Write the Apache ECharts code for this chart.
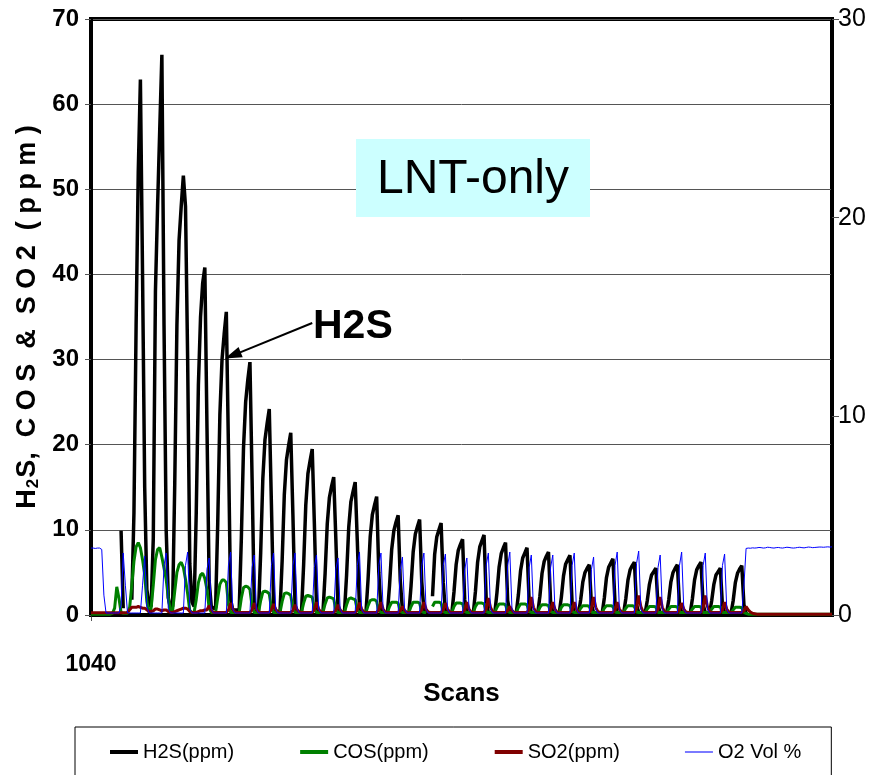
<!DOCTYPE html>
<html>
<head>
<meta charset="utf-8">
<title>LNT-only</title>
<script src="https://cdn.jsdelivr.net/npm/echarts@6/dist/echarts.min.js"></script>
<style>
  html, body { margin: 0; padding: 0; background: #fff; }
  #chart { width: 871px; height: 775px; }
</style>
</head>
<body>
<div id="chart"></div>
<script>
// scans start at 1040, one value per scan
const firstScan = 1040;

const h2s = [
    0, 0, 0, 0, 0, 0, 0, 0, 0, 0,
    0, 0, 0, null, 9.9, 0.8, null, null, null, 1.8,
    12, 34, 52, 62.9, 40, 15, 3, 1.2, 1.0, 9,
    38, 48, 57, 65.8, 34, 10, 2, 0.9, 1.0, 15.5,
    34, 44, 48, 51.6, 48, 30, 6, 1.5, 1.0, 12,
    27, 35, 39, 40.8, 22, 4, 1.0, 0.8, 0.8, 10.7,
    23.5, 30, 33, 35.6, 19.5, 1.8, 0.6, 0.6, 0.6, 0.6,
    9, 19.6, 25, 27.6, 29.7, 16, 1.5, 0.5, 0.5, 7.3,
    16, 20.6, 22.5, 24.2, 13, 1.2, 0.4, 0.4, 0.4, 6.4,
    14.1, 18.2, 19.9, 21.4, 11.8, 1.1, 0.3, 0.3, 0.3, 5.9,
    12.9, 16.6, 18.1, 19.5, 10.7, 1.0, 0.3, 0.3, 0.3, 4.9,
    10.7, 13.8, 15.1, 16.2, 8.9, 0.8, 0.3, 0.3, 0.3, 4.7,
    10.3, 13.3, 14.5, 15.6, 8.6, 0.8, 0.2, 0.2, 0.2, 4.2,
    9.2, 11.8, 12.9, 13.9, 5, 0.7, 0.2, 0.2, 0.2, 3.5,
    7.7, 9.9, 10.9, 11.7, 4, 0.6, 0.2, 0.2, 0.2, 3.4,
    7.4, 9.5, 10.4, 11.2, 3.9, 0.6, 0.2, null, null, 2.2,
    7.1, 9.2, 10, 10.8, 3.8, 0.5, 0.2, 0.2, 0.2, 2.7,
    5.9, 7.6, 8.3, 8.9, 1.8, 0.3, 0.2, 0.2, 0.2, 2.8,
    6.2, 8.0, 8.7, 9.4, 1.9, 0.3, 0.2, 0.2, 0.2, 2.6,
    5.6, 7.2, 7.9, 8.5, 1.7, 0.3, 0.2, 0.2, 0.2, 2.4,
    5.2, 6.7, 7.3, 7.9, 1.6, 0.3, 0.2, 0.2, 0.2, 2.2,
    4.9, 6.3, 6.9, 7.4, 1.5, 0.3, 0.2, 0.2, 0.2, 2.1,
    4.6, 6.0, 6.5, 7.0, 1.4, 0.3, 0.2, 0.2, 1.8, 3.9,
    5.0, 5.5, 5.9, 1.2, 0.3, 0.2, 0.2, 0.2, 0.2, 2.0,
    4.4, 5.6, 6.1, 6.6, 1.3, 0.3, 0.2, 0.2, 0.2, 1.9,
    4.1, 5.3, 5.8, 6.2, 1.2, 0.3, 0.2, 0.2, 0.2, 1.7,
    3.6, 4.7, 5.1, 5.5, 1.1, 0.3, 0.2, 0.2, 0.2, 1.8,
    3.9, 5.0, 5.5, 5.9, 1.2, 0.3, 0.2, 0.2, 0.2, 0.2,
    1.9, 4.1, 5.3, 5.8, 6.2, 1.2, 0.3, 0.2, 0.2, 1.7,
    3.6, 4.7, 5.1, 5.5, 1.1, 0.3, 0.2, 0.2, 0.2, 1.7,
    3.8, 4.9, 5.4, 5.8, 1.2, 0.2, 0, 0, 0, 0,
    0, 0, 0, 0, 0, 0, 0, 0, 0, 0,
    0, 0, 0, 0, 0, 0, 0, 0, 0, 0,
    0, 0, 0, 0, 0, 0, 0, 0, 0, 0,
    0, 0, 0, 0, 0, 0
];

const cos = [
    0.1, 0.1, 0.1, 0.1, 0.1, 0.1, 0.1, 0.1, 0.1, 0.1,
    0.2, 0.8, 3.3, 2.0, 0.3, 0.2, 0.2, 0.2, 0.9, 3.5,
    6.3, 8.0, 8.5, 7.9, 6.5, 4.7, 1.6, 0.3, 0.8, 3.5,
    6.5, 7.7, 7.9, 6.8, 5.5, 4.2, 2.0, 0.4, 0.5, 2.8,
    5.0, 5.9, 6.2, 5.6, 4.2, 2.5, 0.5, 0.3, 0.3, 1.8,
    3.8, 4.7, 4.9, 4.3, 3.0, 0.8, 0.3, 0.3, 0.3, 2.0,
    3.6, 4.1, 4.1, 3.8, 1.2, 0.3, 0.3, 0.3, 0.3, 0.3,
    2.0, 3.2, 3.4, 3.3, 3.0, 1.0, 0.3, 0.3, 0.3, 1.7,
    2.7, 2.8, 2.7, 2.5, 0.8, 0.3, 0.3, 0.3, 0.3, 1.6,
    2.5, 2.6, 2.5, 2.3, 0.8, 0.3, 0.3, 0.3, 0.3, 1.4,
    2.2, 2.3, 2.2, 2.1, 0.7, 0.3, 0.3, 0.3, 0.3, 1.3,
    2.0, 2.1, 2.0, 1.9, 0.6, 0.3, 0.3, 0.3, 0.3, 1.2,
    1.9, 2.0, 1.9, 1.8, 0.6, 0.3, 0.3, 0.3, 0.3, 1.1,
    1.7, 1.8, 1.8, 1.6, 0.5, 0.3, 0.3, 0.3, 0.3, 1.0,
    1.5, 1.5, 1.5, 1.4, 0.4, 0.3, 0.3, 0.3, 0.3, 1.0,
    1.5, 1.5, 1.5, 1.4, 0.4, 0.3, 0.3, null, null, 1.0,
    1.5, 1.5, 1.5, 1.4, 0.4, 0.3, 0.3, 0.3, 0.3, 1.0,
    1.4, 1.4, 1.4, 1.3, 0.4, 0.3, 0.3, 0.3, 0.3, 1.0,
    1.4, 1.4, 1.4, 1.3, 0.4, 0.3, 0.3, 0.3, 0.3, 0.9,
    1.3, 1.3, 1.3, 1.2, 0.4, 0.3, 0.3, 0.3, 0.3, 0.9,
    1.3, 1.3, 1.3, 1.2, 0.4, 0.3, 0.3, 0.3, 0.3, 0.9,
    1.2, 1.2, 1.2, 1.1, 0.4, 0.3, 0.3, 0.3, 0.3, 0.9,
    1.2, 1.2, 1.2, 1.1, 0.4, 0.3, 0.3, 0.3, 0.8, 1.1,
    1.1, 1.1, 1.0, 0.35, 0.3, 0.3, 0.3, 0.3, 0.3, 0.8,
    1.1, 1.1, 1.1, 1.0, 0.35, 0.3, 0.3, 0.3, 0.3, 0.8,
    1.1, 1.1, 1.1, 1.0, 0.35, 0.3, 0.3, 0.3, 0.3, 0.7,
    1.0, 1.0, 1.0, 0.95, 0.3, 0.3, 0.3, 0.3, 0.3, 0.7,
    1.0, 1.0, 1.0, 0.95, 0.3, 0.3, 0.3, 0.3, 0.3, 0.3,
    0.7, 1.0, 1.0, 1.0, 0.95, 0.3, 0.3, 0.3, 0.3, 0.7,
    1.0, 1.0, 1.0, 0.95, 0.3, 0.3, 0.3, 0.3, 0.3, 0.6,
    0.9, 0.9, 0.9, 0.85, 0.3, 0.2, 0.1, 0.1, 0.1, 0.1,
    0.1, 0.1, 0.1, 0.1, 0.1, 0.1, 0.1, 0.1, 0.1, 0.1,
    0.1, 0.1, 0.1, 0.1, 0.1, 0.1, 0.1, 0.1, 0.1, 0.1,
    0.1, 0.1, 0.1, 0.1, 0.1, 0.1, 0.1, 0.1, 0.1, 0.1,
    0.1, 0.1, 0.1, 0.1, 0.1, 0.1
];

const so2 = [
    0.25, 0.25, 0.25, 0.25, 0.25, 0.25, 0.25, 0.25, 0.25, 0.25,
    0.25, 0.25, 0.25, 0.25, 0.25, 0.25, 0.25, 0.3, 0.6, 0.9,
    0.9, 0.9, 1.0, 0.9, 0.8, 0.8, 0.6, 0.4, 0.4, 0.5,
    0.7, 0.7, 0.6, 0.5, 0.6, 0.6, 0.4, 0.3, 0.3, 0.4,
    0.5, 0.6, 0.7, 0.8, 0.8, 0.7, 0.4, 0.3, 0.3, 0.3,
    0.4, 0.5, 0.5, 0.6, 0.6, 1.1, 0.6, 0.3, 0.3, 0.3,
    0.3, 0.3, 0.3, 0.3, 0.6, 1.4, 0.7, 0.35, 0.3, 0.3,
    0.3, 0.3, 0.3, 0.3, 0.3, 0.6, 1.4, 0.7, 0.35, 0.3,
    0.3, 0.3, 0.3, 0.3, 0.6, 1.3, 0.65, 0.35, 0.3, 0.3,
    0.3, 0.3, 0.3, 0.3, 0.55, 1.2, 0.6, 0.35, 0.3, 0.3,
    0.3, 0.3, 0.3, 0.3, 0.6, 1.5, 0.7, 0.35, 0.3, 0.3,
    0.3, 0.3, 0.3, 0.3, 0.55, 1.2, 0.6, 0.35, 0.3, 0.3,
    0.3, 0.3, 0.3, 0.3, 0.6, 1.45, 0.7, 0.35, 0.3, 0.3,
    0.3, 0.3, 0.3, 0.3, 0.6, 1.5, 0.7, 0.35, 0.3, 0.3,
    0.3, 0.3, 0.3, 0.3, 0.5, 1.0, 0.55, 0.3, 0.3, 0.3,
    0.3, 0.3, 0.3, 0.3, 0.6, 1.5, 0.7, 0.35, 0.3, 0.3,
    0.3, 0.3, 0.3, 0.3, 0.6, 1.4, 0.7, 0.35, 0.3, 0.3,
    0.3, 0.3, 0.3, 0.3, 0.6, 1.5, 0.7, 0.35, 0.3, 0.3,
    0.3, 0.3, 0.3, 0.3, 0.7, 2.0, 0.9, 0.4, 0.3, 0.3,
    0.3, 0.3, 0.3, 0.3, 0.5, 1.0, 0.55, 0.3, 0.3, 0.3,
    0.3, 0.3, 0.3, 0.3, 0.7, 2.1, 0.9, 0.4, 0.3, 0.3,
    0.3, 0.3, 0.3, 0.3, 0.6, 1.5, 0.7, 0.35, 0.3, 0.3,
    0.3, 0.3, 0.3, 0.3, 0.6, 1.5, 0.7, 0.35, 0.3, 0.3,
    0.3, 0.3, 0.3, 0.7, 2.1, 0.9, 0.4, 0.3, 0.3, 0.3,
    0.3, 0.3, 0.3, 0.3, 0.6, 1.5, 0.7, 0.35, 0.3, 0.3,
    0.3, 0.3, 0.3, 0.3, 0.8, 2.3, 1.0, 0.4, 0.3, 0.3,
    0.3, 0.3, 0.3, 0.3, 0.7, 2.1, 0.9, 0.4, 0.3, 0.3,
    0.3, 0.3, 0.3, 0.3, 0.6, 1.4, 0.7, 0.35, 0.3, 0.3,
    0.3, 0.3, 0.3, 0.3, 0.3, 0.8, 2.3, 1.0, 0.4, 0.3,
    0.3, 0.3, 0.3, 0.3, 0.6, 1.5, 0.7, 0.35, 0.3, 0.3,
    0.3, 0.3, 0.3, 0.3, 0.5, 1.0, 0.6, 0.35, 0.2, 0.15,
    0.1, 0.1, 0.1, 0.1, 0.1, 0.1, 0.1, 0.1, 0.1, 0.1,
    0.1, 0.1, 0.1, 0.1, 0.1, 0.1, 0.1, 0.1, 0.1, 0.1,
    0.1, 0.1, 0.1, 0.1, 0.1, 0.1, 0.1, 0.1, 0.1, 0.1,
    0.1, 0.1, 0.1, 0.1, 0.1, 0.1
];

// O2 Vol % (right axis)
const o2 = [
    3.37, 3.37, 3.35, 3.37, 3.37, 3.3, 1.0, 0.1, 0.1, 0.1,
    0.1, 0.1, 0.1, 0.1, 0.5, 3.12, 1.5, 0.12, 0.1, 0.1,
    0.1, 0.1, 0.1, 0.1, 1.5, 2.97, 0.4, 0.1, 0.1, 0.1,
    0.1, 0.1, 0.1, 0.1, 2.5, 3.12, 0.3, 0.1, 0.1, 0.1,
    0.1, 0.1, 0.1, 0.1, 2.5, 3.17, 0.3, 0.1, 0.1, 0.1,
    0.1, 0.1, 0.1, 0.1, 2.3, 2.87, 0.3, 0.1, 0.1, 0.1,
    0.1, 0.1, 0.1, 0.1, 2.5, 3.17, 0.3, 0.1, 0.1, 0.1,
    0.1, 0.1, 0.1, 0.1, 0.1, 2.4, 3.02, 0.3, 0.1, 0.1,
    0.1, 0.1, 0.1, 0.1, 2.5, 3.12, 0.3, 0.1, 0.1, 0.1,
    0.1, 0.1, 0.1, 0.1, 2.5, 3.12, 0.3, 0.1, 0.1, 0.1,
    0.1, 0.1, 0.1, 0.1, 2.4, 3.02, 0.3, 0.1, 0.1, 0.1,
    0.1, 0.1, 0.1, 0.1, 2.3, 2.87, 0.3, 0.1, 0.1, 0.1,
    0.1, 0.1, 0.1, 0.1, 2.5, 3.17, 0.3, 0.1, 0.1, 0.1,
    0.1, 0.1, 0.1, 0.1, 2.5, 3.12, 0.3, 0.1, 0.1, 0.1,
    0.1, 0.1, 0.1, 0.1, 2.3, 2.92, 0.3, 0.1, 0.1, 0.1,
    0.1, 0.1, 0.1, 0.1, 2.5, 3.12, 0.3, 0.1, 0.1, 0.1,
    0.1, 0.1, 0.1, 0.1, 2.5, 3.07, 0.3, 0.1, 0.1, 0.1,
    0.1, 0.1, 0.1, 0.1, 2.3, 2.87, 0.3, 0.1, 0.1, 0.1,
    0.1, 0.1, 0.1, 0.1, 2.5, 3.12, 0.3, 0.1, 0.1, 0.1,
    0.1, 0.1, 0.1, 0.1, 2.5, 3.17, 0.3, 0.1, 0.1, 0.1,
    0.1, 0.1, 0.1, 0.1, 2.4, 3.02, 0.3, 0.1, 0.1, 0.1,
    0.1, 0.1, 0.1, 0.1, 2.4, 3.02, 0.3, 0.1, 0.1, 0.1,
    0.1, 0.1, 0.1, 0.1, 2.5, 3.12, 0.3, 0.1, 0.1, 0.1,
    0.1, 0.1, 0.1, 2.3, 2.92, 0.3, 0.1, 0.1, 0.1, 0.1,
    0.1, 0.1, 0.1, 0.1, 2.5, 3.17, 0.3, 0.1, 0.1, 0.1,
    0.1, 0.1, 0.1, 0.1, 2.6, 3.22, 0.3, 0.1, 0.1, 0.1,
    0.1, 0.1, 0.1, 0.1, 2.4, 3.02, 0.3, 0.1, 0.1, 0.1,
    0.1, 0.1, 0.1, 0.1, 2.5, 3.17, 0.3, 0.1, 0.1, 0.1,
    0.1, 0.1, 0.1, 0.1, 0.1, 2.5, 3.12, 0.3, 0.1, 0.1,
    0.1, 0.1, 0.1, 0.1, 2.5, 3.07, 0.3, 0.1, 0.1, 0.1,
    0.1, 0.1, 0.1, 0.1, 1.5, 3.35, 3.37, 3.36, 3.38, 3.37,
    3.38, 3.40, 3.39, 3.37, 3.38, 3.41, 3.40, 3.38, 3.37, 3.39,
    3.40, 3.38, 3.37, 3.39, 3.41, 3.40, 3.38, 3.37, 3.38, 3.40,
    3.41, 3.39, 3.38, 3.40, 3.42, 3.41, 3.39, 3.40, 3.41, 3.42,
    3.42, 3.41, 3.42, 3.43, 3.42, 3.43
];

const scans = h2s.map((_, i) => String(firstScan + i));

const leftTicks = { min: 0, max: 70, interval: 10 };
const rightTicks = { min: 0, max: 30, interval: 10 };

// arrow for the "H2S" note, in [scan, ppm]
const arrowFrom = ['1143', 34.3];
const arrowTo = ['1106', 30.5];

const font = "'Liberation Sans', Arial, sans-serif";

const chart = echarts.init(document.getElementById('chart'));

const option = {
    animation: false,
    backgroundColor: '#fff',
    grid: {
        left: 91,
        right: 39,
        top: 19,
        bottom: 160,
        show: true,
        borderColor: '#000',
        borderWidth: 4
    },
    legend: {
        left: 75,
        top: 727,
        padding: [15, 30, 40, 33],
        itemGap: 64,
        itemWidth: 28,
        itemHeight: 14,
        borderColor: '#000',
        borderWidth: 1,
        itemStyle: { opacity: 0 },
        textStyle: { fontFamily: font, fontSize: 20, color: '#000' },
        data: [
            { name: 'H2S(ppm)', lineStyle: { width: 4 } },
            { name: 'COS(ppm)', lineStyle: { width: 4 } },
            { name: 'SO2(ppm)', lineStyle: { width: 4 } },
            { name: 'O2 Vol %', lineStyle: { width: 2, color: '#7a7aff' } }
        ]
    },
    xAxis: {
        type: 'category',
        data: scans,
        boundaryGap: false,
        name: 'Scans',
        nameLocation: 'middle',
        nameGap: 50,
        nameTextStyle: { fontFamily: font, fontWeight: 'bold', fontSize: 26, color: '#000' },
        axisLine: { lineStyle: { color: '#000', width: 2 } },
        axisTick: { interval: (i) => i === 0, length: 6, lineStyle: { color: '#555' } },
        axisLabel: {
            interval: (i) => i === 0,
            margin: 38,
            fontFamily: font,
            fontWeight: 'bold',
            fontSize: 23,
            color: '#000'
        },
        splitLine: { show: false }
    },
    yAxis: [
        {
            type: 'value',
            min: leftTicks.min,
            max: leftTicks.max,
            interval: leftTicks.interval,
            name: '{b|H}{s|2}{b|S,  C O S  &  S O 2  ( p p m )}',
            nameLocation: 'middle',
            nameRotate: 90,
            nameGap: 47,
            nameTextStyle: {
                rich: {
                    b: { fontFamily: font, fontWeight: 'bold', fontSize: 27, color: '#000' },
                    s: { fontFamily: font, fontWeight: 'bold', fontSize: 17, color: '#000', verticalAlign: 'bottom', padding: [0, 1, 0, 1] }
                }
            },
            axisLine: { show: true, lineStyle: { color: '#000', width: 4 } },
            axisTick: { show: true, length: 6, lineStyle: { color: '#555' } },
            axisLabel: { fontFamily: font, fontWeight: 'bold', fontSize: 24, color: '#000', margin: 12 },
            splitLine: { show: true, lineStyle: { color: '#555', width: 1 } }
        },
        {
            type: 'value',
            position: 'right',
            min: rightTicks.min,
            max: rightTicks.max,
            interval: rightTicks.interval,
            axisLine: { show: true, lineStyle: { color: '#000', width: 3 } },
            axisTick: { show: true, length: 7, lineStyle: { color: '#555' } },
            axisLabel: { fontFamily: font, fontSize: 25, color: '#000', margin: 6 },
            splitLine: { show: false }
        }
    ],
    series: [
        {
            name: 'H2S(ppm)',
            type: 'line',
            data: h2s,
            showSymbol: false,
            symbol: 'none',
            color: '#000',
            lineStyle: { color: '#000', width: 3.5 },
            markLine: {
                silent: true,
                animation: false,
                label: { show: false },
                lineStyle: { color: '#000', width: 2, type: 'solid' },
                data: [[
                    { coord: arrowFrom, symbol: 'none' },
                    { coord: arrowTo, symbol: 'path://M5,0L10,16L0,16Z', symbolSize: [11, 17] }
                ]]
            }
        },
        {
            name: 'COS(ppm)',
            type: 'line',
            data: cos,
            showSymbol: false,
            symbol: 'none',
            color: '#008000',
            lineStyle: { color: '#008000', width: 3 }
        },
        {
            name: 'SO2(ppm)',
            type: 'line',
            data: so2,
            showSymbol: false,
            symbol: 'none',
            color: '#800000',
            lineStyle: { color: '#800000', width: 3 }
        },
        {
            name: 'O2 Vol %',
            type: 'line',
            yAxisIndex: 1,
            data: o2,
            showSymbol: false,
            symbol: 'none',
            color: '#0000ff',
            lineStyle: { color: '#0000ff', width: 1 }
        }
    ],
    graphic: [
        {
            type: 'rect',
            z: 20,
            left: 356,
            top: 139,
            shape: { width: 234, height: 78 },
            style: { fill: '#ccffff' }
        },
        {
            type: 'text',
            z: 21,
            x: 473,
            y: 180,
            style: {
                text: 'LNT-only',
                font: '48px ' + font,
                fill: '#000',
                align: 'center',
                verticalAlign: 'middle'
            }
        },
        {
            type: 'text',
            z: 21,
            x: 313,
            y: 327,
            style: {
                text: 'H2S',
                font: 'bold 41px ' + font,
                fill: '#000',
                align: 'left',
                verticalAlign: 'middle'
            }
        }
    ]
};

chart.setOption(option);
</script>
</body>
</html>
